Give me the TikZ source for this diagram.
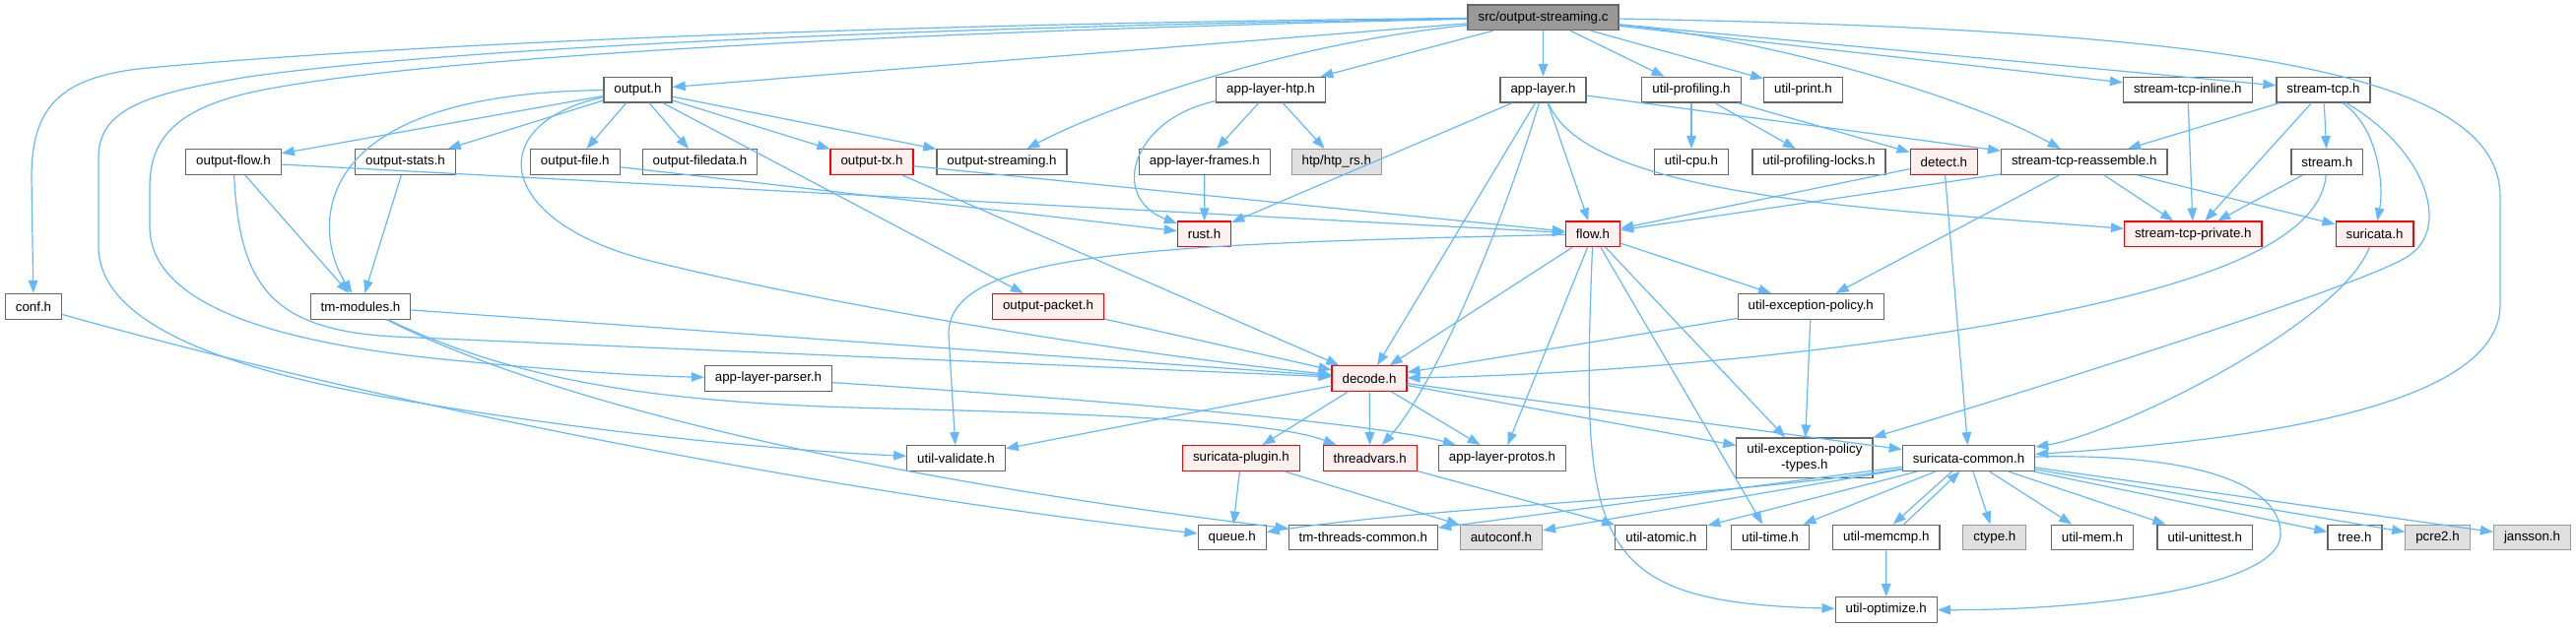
\documentclass[tikz,border=0pt]{standalone}
\usepackage{fontspec}
\setmainfont{Liberation Sans}
\usetikzlibrary{arrows.meta}
\definecolor{edgeblue}{HTML}{63B8FF}
\definecolor{boxline}{HTML}{666666}
\definecolor{truncfill}{HTML}{FFF0F0}
\definecolor{undocfill}{HTML}{E0E0E0}
\definecolor{undocline}{HTML}{999999}
\definecolor{rootfill}{HTML}{999999}
\begin{document}
\begin{tikzpicture}[x=1pt,y=-1pt,
    file/.style={draw=boxline,fill=white,line width=1.2pt,inner xsep=10.5pt,inner ysep=0pt,minimum height=25.6pt,font=\fontsize{13.33}{15.5}\selectfont},
    root/.style={file,fill=rootfill},
    trunc/.style={file,draw=red,fill=truncfill},
    undoc/.style={file,draw=undocline,fill=undocfill},
    dep/.style={draw=edgeblue,line width=1.2pt,-{Triangle[length=13pt,width=9.5pt]}}]
    \useasboundingbox(0,0)rectangle(2615,637);
    \node[root](S) at (1566.5,17.7){src/output-streaming.c};
    \node[file](OUT) at (647.5,91.2){output.h};
    \node[file](HTP) at (1290,91.2){app-layer-htp.h};
    \node[file](AL) at (1566.5,91.2){app-layer.h};
    \node[file](PROF) at (1717,91.2){util-profiling.h};
    \node[file](PRINT) at (1830.4,91.2){util-print.h};
    \node[file](INLINE) at (2220.8,91.2){stream-tcp-inline.h};
    \node[file](TCP) at (2358.5,91.2){stream-tcp.h};
    \node[file](OFLOW) at (237,164.5){output-flow.h};
    \node[file](OSTATS) at (411.5,164.5){output-stats.h};
    \node[file](OFILE) at (583.8,164.5){output-file.h};
    \node[file](OFDATA) at (710.5,164.5){output-filedata.h};
    \node[trunc](OTX) at (885,164.5){output-tx.h};
    \node[file](OSTRM) at (1017,164.5){output-streaming.h};
    \node[file](FRAMES) at (1222.9,164.5){app-layer-frames.h};
    \node[undoc](HTPRS) at (1356.8,164.5){htp/htp\_rs.h};
    \node[file](CPU) at (1717,164.5){util-cpu.h};
    \node[file](PLOCKS) at (1846.5,164.5){util-profiling-locks.h};
    \node[trunc](DETECT) at (1973.4,164.5){detect.h};
    \node[file](REASM) at (2115.7,164.5){stream-tcp-reassemble.h};
    \node[file](STREAM) at (2362.3,164.5){stream.h};
    \node[trunc](RUST) at (1222.5,237.8){rust.h};
    \node[trunc](FLOW) at (1617,237.8){flow.h};
    \node[trunc](PRIV) at (2226.3,237.8){stream-tcp-private.h};
    \node[trunc](SURI) at (2410.5,237.8){suricata.h};
    \node[file](CONF) at (34,311.3){conf.h};
    \node[file](TMMOD) at (366,311.3){tm-modules.h};
    \node[trunc](OPKT) at (1064,311.3){output-packet.h};
    \node[file](EXPOL) at (1838.3,311.3){util-exception-policy.h};
    \node[file](PARSER) at (780,384.5){app-layer-parser.h};
    \node[trunc](DECODE) at (1390,384.5){decode.h};
    \node[file](VALID) at (970.5,465.5){util-validate.h};
    \node[trunc](PLUGIN) at (1259.9,465.5){suricata-plugin.h};
    \node[trunc](TV) at (1390.7,465.5){threadvars.h};
    \node[file](PROTOS) at (1525,465.5){app-layer-protos.h};
    \node[file,align=center,minimum height=40.3pt](EXTYPES) at (1831.9,465.2){util-exception-policy\\-types.h};
    \node[file](COMMON) at (1998.5,465.5){suricata-common.h};
    \node[file](QUEUE) at (1250.7,546){queue.h};
    \node[file](TMTC) at (1383.8,546){tm-threads-common.h};
    \node[undoc](AUTOCONF) at (1523.9,546){autoconf.h};
    \node[file](ATOMIC) at (1686.3,546){util-atomic.h};
    \node[file](TIME) at (1797,546){util-time.h};
    \node[file](MEMCMP) at (1914.8,546){util-memcmp.h};
    \node[undoc](CTYPE) at (2024.8,546){ctype.h};
    \node[file](MEM) at (2124,546){util-mem.h};
    \node[file](UNITTEST) at (2238.3,546){util-unittest.h};
    \node[file](TREE) at (2390.5,546){tree.h};
    \node[undoc](PCRE) at (2474.5,546){pcre2.h};
    \node[undoc](JANSSON) at (2570.5,546){jansson.h};
    \node[file](OPTIM) at (1914.7,619.5){util-optimize.h};
    \draw[dep](S).. controls (900,24) and (400,45) ..(140,70).. controls (60,80) and (32,110) ..(32,180)--(CONF);
    \draw[dep](S).. controls (900,28) and (450,50) ..(252,78).. controls (150,95) and (100,110) ..(100,160)--(100,250).. controls (100,320) and (200,370) ..(400,405).. controls (600,440) and (800,458) ..(VALID);
    \draw[dep](S).. controls (900,32) and (400,60) ..(250,95).. controls (180,112) and (152,140) ..(152,190)--(152,230).. controls (152,300) and (250,345) ..(450,365).. controls (560,376) and (650,382) ..(PARSER);
    \draw[dep](S)--(OUT);
    \draw[dep](S).. controls (1300,45) and (1120,110) ..(OSTRM);
    \draw[dep](S)--(HTP);
    \draw[dep](S)--(AL);
    \draw[dep](S)--(PROF);
    \draw[dep](S)--(PRINT);
    \draw[dep](S).. controls (1800,40) and (2000,100) ..(REASM);
    \draw[dep](S)--(INLINE);
    \draw[dep](S)--(TCP);
    \draw[dep](S).. controls (2250,30) and (2538,70) ..(2538,200)--(2538,310).. controls (2538,420) and (2250,450) ..(COMMON);
    \draw[dep](OUT)--(OFLOW);
    \draw[dep](OUT)--(OSTATS);
    \draw[dep](OUT)--(OFILE);
    \draw[dep](OUT)--(OFDATA);
    \draw[dep](OUT)--(OTX);
    \draw[dep](OUT)--(OSTRM);
    \draw[dep](OUT)--(OPKT);
    \draw[dep](OUT).. controls (300,95) and (320,240) ..(TMMOD);
    \draw[dep](OUT).. controls (490,125) and (500,225) ..(660,265).. controls (850,312) and (1150,360) ..(DECODE);
    \draw[dep](OFLOW)--(TMMOD);
    \draw[dep](OFLOW)--(FLOW);
    \draw[dep](OFLOW).. controls (243,290) and (275,335) ..(400,342)--(DECODE);
    \draw[dep](OSTATS)--(TMMOD);
    \draw[dep](OFILE)--(RUST);
    \draw[dep](OTX)--(FLOW);
    \draw[dep](OTX)--(DECODE);
    \draw[dep](HTP)--(FRAMES);
    \draw[dep](HTP)--(HTPRS);
    \draw[dep](HTP).. controls (1150,120) and (1125,200) ..(RUST);
    \draw[dep](FRAMES)--(RUST);
    \draw[dep](AL)--(RUST);
    \draw[dep](AL)--(FLOW);
    \draw[dep](AL)--(DECODE);
    \draw[dep](AL).. controls (1515,260) and (1450,400) ..(TV);
    \draw[dep](AL).. controls (1610,200) and (1900,212) ..(PRIV);
    \draw[dep](AL)--(REASM);
    \draw[dep](PROF)--(CPU);
    \draw[dep](PROF)--(PLOCKS);
    \draw[dep](PROF)--(DETECT);
    \draw[dep](DETECT)--(FLOW);
    \draw[dep](DETECT)--(COMMON);
    \draw[dep](REASM)--(PRIV);
    \draw[dep](REASM)--(SURI);
    \draw[dep](REASM)--(EXPOL);
    \draw[dep](REASM)--(FLOW);
    \draw[dep](INLINE)--(PRIV);
    \draw[dep](TCP)--(REASM);
    \draw[dep](TCP)--(PRIV);
    \draw[dep](TCP)--(STREAM);
    \draw[dep](TCP).. controls (2415,130) and (2420,190) ..(SURI);
    \draw[dep](TCP).. controls (2460,150) and (2490,230) ..(2445,260).. controls (2400,290) and (2050,400) ..(EXTYPES);
    \draw[dep](STREAM)--(PRIV);
    \draw[dep](STREAM).. controls (2355,250) and (2220,295) ..(2020,330).. controls (1800,368) and (1560,382) ..(DECODE);
    \draw[dep](SURI).. controls (2375,330) and (2150,440) ..(COMMON);
    \draw[dep](FLOW).. controls (1150,248) and (962,258) ..(963,340)--(VALID);
    \draw[dep](FLOW)--(DECODE);
    \draw[dep](FLOW)--(PROTOS);
    \draw[dep](FLOW).. controls (1605,550) and (1610,612) ..(OPTIM);
    \draw[dep](FLOW)--(TIME);
    \draw[dep](FLOW)--(EXTYPES);
    \draw[dep](FLOW)--(EXPOL);
    \draw[dep](TMMOD)--(DECODE);
    \draw[dep](TMMOD).. controls (540,395) and (700,410) ..(900,415).. controls (1150,421) and (1300,430) ..(TV);
    \draw[dep](TMMOD).. controls (600,430) and (1000,500) ..(TMTC);
    \draw[dep](CONF).. controls (350,400) and (800,495) ..(QUEUE);
    \draw[dep](PARSER).. controls (1100,405) and (1400,430) ..(PROTOS);
    \draw[dep](OPKT)--(DECODE);
    \draw[dep](EXPOL)--(EXTYPES);
    \draw[dep](EXPOL)--(DECODE);
    \draw[dep](DECODE)--(VALID);
    \draw[dep](DECODE)--(PLUGIN);
    \draw[dep](DECODE)--(TV);
    \draw[dep](DECODE)--(PROTOS);
    \draw[dep](DECODE)--(COMMON);
    \draw[dep](DECODE)--(EXTYPES);
    \draw[dep](PLUGIN)--(QUEUE);
    \draw[dep](PLUGIN)--(AUTOCONF);
    \draw[dep](TV)--(ATOMIC);
    \draw[dep](COMMON).. controls (1750,505) and (1450,515) ..(QUEUE);
    \draw[dep](COMMON)--(TMTC);
    \draw[dep](COMMON)--(AUTOCONF);
    \draw[dep](COMMON)--(ATOMIC);
    \draw[dep](COMMON)--(TIME);
    \draw[dep]([xshift=-17pt]COMMON.south)--([xshift=7pt]MEMCMP.north);
    \draw[dep](COMMON)--(CTYPE);
    \draw[dep](COMMON)--(MEM);
    \draw[dep](COMMON)--(UNITTEST);
    \draw[dep](COMMON)--(TREE);
    \draw[dep](COMMON)--(PCRE);
    \draw[dep](COMMON)--(JANSSON);
    \draw[dep](COMMON).. controls (2250,460) and (2318,500) ..(2315,545).. controls (2310,595) and (2130,620) ..(OPTIM);
    \draw[dep](MEMCMP)--(OPTIM);
    \draw[dep]([xshift=18pt]MEMCMP.north)--([xshift=-9pt]COMMON.south);
  \end{tikzpicture}
\end{document}
